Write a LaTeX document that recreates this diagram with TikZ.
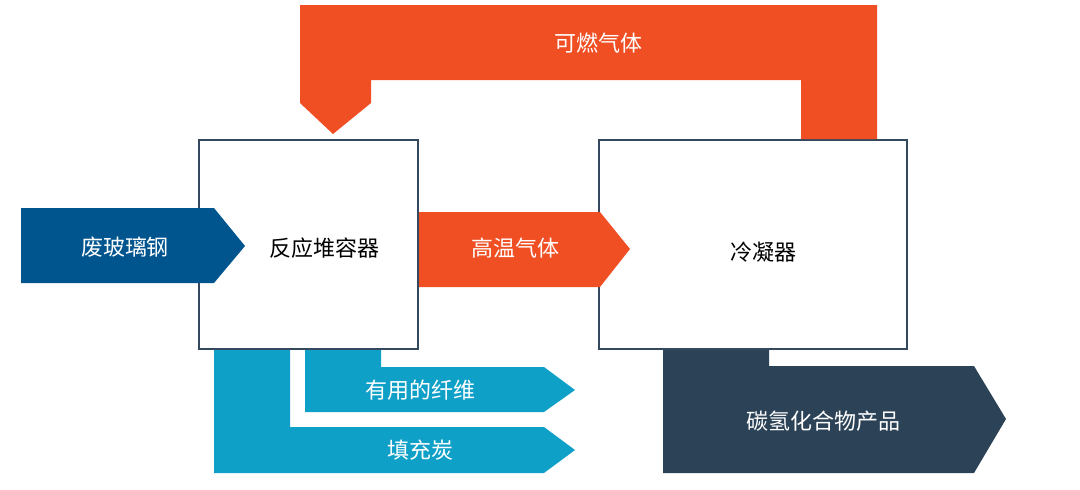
\documentclass[tikz,border=0pt]{standalone}
\usepackage{fontspec}
\setmainfont{Noto Sans CJK SC}
\definecolor{cblue}{HTML}{00558F}
\definecolor{corange}{HTML}{F04E23}
\definecolor{ccyan}{HTML}{0FA0C8}
\definecolor{cdark}{HTML}{2B4257}
\definecolor{cline}{HTML}{34495E}
\tikzset{
  boxstyle/.style={draw=cline, line width=1.8pt, fill=white},
  lbl/.style={font=\fontsize{22}{25}\selectfont, inner sep=0pt},
  wlbl/.style={lbl, text=white},
  blbl/.style={lbl, text=black},
}
\begin{document}
\begin{tikzpicture}[x=1pt,y=-1pt]
\useasboundingbox (0,0) rectangle (1080,490);
% boxes
\draw[boxstyle] (199,140) rectangle (418,349);
\draw[boxstyle] (599,140) rectangle (907,349);
\coordinate (reactor) at (308.5,244.5);
\coordinate (condenser) at (753,244.5);
% top orange loop arrow
\fill[corange] (300,5) -- (877,5) -- (877,139) -- (801,139) -- (801,80) -- (371,80) -- (371,103) -- (333,134) -- (300,103) -- cycle;
\node[wlbl] (gas) at (598,43) {可燃气体};
% input blue arrow
\fill[cblue] (21,208) -- (214,208) -- (245,246) -- (214,283) -- (21,283) -- cycle;
\node[wlbl] (waste) at (125,247) {废玻璃钢};
% middle orange arrow
\fill[corange] (419,212) -- (600,212) -- (630,249) -- (600,287) -- (419,287) -- cycle;
\node[wlbl] (hotgas) at (515,248) {高温气体};
% cyan outputs
\fill[ccyan] (214,350) -- (290,350) -- (290,427) -- (544,427) -- (575,450) -- (544,473) -- (214,473) -- cycle;
\fill[ccyan] (305,350) -- (381,350) -- (381,367) -- (544,367) -- (575,390) -- (544,412) -- (305,412) -- cycle;
\node[wlbl] (fiber) at (420,390) {有用的纤维};
\node[wlbl] (char) at (420,450) {填充炭};
% dark output
\fill[cdark] (663,350) -- (769,350) -- (769,366) -- (974,366) -- (1006,419) -- (974,473) -- (663,473) -- cycle;
\node[wlbl] (hc) at (823,421) {碳氢化合物产品};
% box labels
\node[blbl] (rlabel) at (324,248) {反应堆容器};
\node[blbl] (clabel) at (763,252) {冷凝器};
\end{tikzpicture}
\end{document}
